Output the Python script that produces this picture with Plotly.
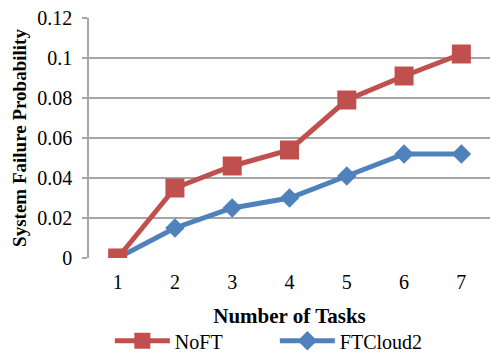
import plotly.graph_objects as go

tasks = [1, 2, 3, 4, 5, 6, 7]
noft = [0.0, 0.035, 0.046, 0.054, 0.079, 0.091, 0.102]
ftcloud2 = [0.0, 0.015, 0.025, 0.030, 0.041, 0.052, 0.052]
y_ticks = [0, 0.02, 0.04, 0.06, 0.08, 0.1, 0.12]
y_labels = ["0", "0.02", "0.04", "0.06", "0.08", "0.1", "0.12"]

FONT = "Times New Roman, Liberation Serif, serif"
GRID = "#A6A6A6"

fig = go.Figure()
# FTCloud2 drawn first so the NoFT markers sit on top; legend keeps NoFT first
fig.add_trace(go.Scatter(
    x=tasks, y=ftcloud2, name="FTCloud2", mode="lines+markers", legendrank=2,
    line=dict(color="#4F81BD", width=5),
    marker=dict(symbol="diamond", size=15, color="#4F81BD"),
))
fig.add_trace(go.Scatter(
    x=tasks, y=noft, name="NoFT", mode="lines+markers", legendrank=1,
    line=dict(color="#C0504D", width=5),
    marker=dict(symbol="square", size=19, color="#C0504D"),
))

fig.update_layout(
    width=491, height=356,
    margin=dict(l=89, r=1, t=18, b=98, autoexpand=False),
    paper_bgcolor="white", plot_bgcolor="white",
    font=dict(family=FONT, color="black", size=20),
    xaxis=dict(
        range=[0.5, 7.5], tickmode="array", tickvals=tasks,
        ticktext=[str(t) for t in tasks],
        tickfont=dict(family=FONT, size=20, color="black"),
        showgrid=False, zeroline=False, showline=False,
        ticks="", ticklabelstandoff=10,
        title=dict(text="<b>Number of Tasks</b>",
                   font=dict(family=FONT, size=21), standoff=16),
    ),
    yaxis=dict(
        range=[0, 0.12], tickmode="array", tickvals=y_ticks, ticktext=y_labels,
        tickfont=dict(family=FONT, size=20, color="black"),
        showgrid=True, gridcolor=GRID, gridwidth=1.6,
        zeroline=False, showline=True, linecolor=GRID, linewidth=1.6,
        ticks="outside", ticklen=5, tickcolor=GRID, tickwidth=1.6,
        ticklabelstandoff=6,
        title=dict(text="<b>System Failure Probability</b>",
                   font=dict(family=FONT, size=19), standoff=6),
    ),
    legend=dict(
        orientation="h", x=0.052, xanchor="left", y=-0.345, yanchor="middle",
        font=dict(family=FONT, size=20), itemwidth=55,
        entrywidth=95, entrywidthmode="pixels",
        bgcolor="rgba(0,0,0,0)",
    ),
    showlegend=True,
)

fig.write_html("out.html")
